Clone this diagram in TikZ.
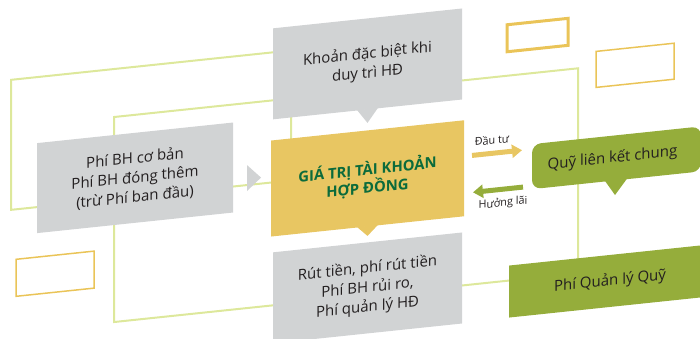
\documentclass[tikz,border=0pt]{standalone}
\usepackage{fontspec}
\setmainfont{Open Sans}
\usetikzlibrary{arrows.meta}
\definecolor{boxgray}{HTML}{D1D3D4}
\definecolor{boxgold}{HTML}{E8C662}
\definecolor{boxgreen}{HTML}{95AD3B}
\definecolor{limeline}{HTML}{DDE89B}
\definecolor{darkgreen}{HTML}{0B6B3B}
\definecolor{textdark}{HTML}{231F20}
\definecolor{outlinegold}{HTML}{EAC458}
\tikzset{
  basebox/.style={draw=none, inner sep=0pt, align=center, text=textdark,
    font=\fontsize{15pt}{19.5pt}\selectfont},
  graybox/.style={basebox, fill=boxgray},
  goldbox/.style={basebox, fill=boxgold, text=darkgreen,
    font=\fontsize{14.8pt}{17.5pt}\selectfont\bfseries},
  greenbox/.style={basebox, fill=boxgreen},
  loopline/.style={draw=limeline, line width=2pt},
  emptybox/.style={draw=outlinegold},
  flowarrow/.style={line width=5pt, -{Triangle[length=10pt,width=13pt]}},
  smalllabel/.style={text=textdark, inner sep=0pt, font=\fontsize{10.8pt}{12pt}\selectfont}
}
\begin{document}
\begin{tikzpicture}[x=1pt,y=-1pt]
\useasboundingbox (0,0) rectangle (700,339);
\clip (0,0) rectangle (700,339);
\begin{scope}[yslant=0.105, every node/.append style={transform shape}]
  % decorative loops behind the boxes
  \coordinate (o1) at (11,81);
  \coordinate (o2) at (291,211);
  \coordinate (i1) at (114,129);
  \coordinate (i2) at (578,334);
  \draw[loopline] (o1) rectangle (o2);
  \draw[loopline] (i1) rectangle (i2);

  % empty outline boxes
  \draw[emptybox, line width=3pt] (507,78) rectangle (568,105);
  \draw[emptybox, line width=1.5pt] (596,114) rectangle (674,150);
  \draw[emptybox, line width=1.5pt] (16,261) rectangle (94,298);

  % boxes
  \node[graybox, minimum width=189pt, minimum height=91pt] (top) at (367.5,102.5)
    {Khoản đặc biệt khi\\duy trì HĐ};
  \node[goldbox, minimum width=193pt, minimum height=96pt] (gold) at (367.5,217)
    {GIÁ TRỊ TÀI KHOẢN\\HỢP ĐỒNG};
  \node[graybox, minimum width=189pt, minimum height=91pt] (bottom) at (367.5,326.5)
    {Rút tiền, phí rút tiền\\Phí BH rủi ro,\\Phí quản lý HĐ};
  \node[graybox, minimum width=196pt, minimum height=90pt] (left) at (135,192)
    {Phí BH cơ bản\\Phí BH đóng thêm\\(trừ Phí ban đầu)};
  \node[greenbox, rounded corners=9pt, minimum width=169pt, minimum height=45pt] (quy) at (616.5,222.5)
    {Quỹ liên kết chung\hspace*{8pt}};
  \node[greenbox, minimum width=202pt, minimum height=52pt] (qlq) at (610,345)
    {Phí Quản lý Quỹ};

  % pointers
  \fill[boxgray] (357,147.5) -- (378,147.5) -- (367.5,161.5) -- cycle;
  \fill[boxgold] (357,264.5) -- (378,264.5) -- (367.5,274.5) -- cycle;
  \fill[boxgreen] (605,244.5) -- (627,244.5) -- (615,259.6) -- cycle;
  \fill[boxgray] (247,191) -- (247,217) -- (261,205) -- cycle;

  % arrows
  \coordinate (a1) at (472,205);
  \coordinate (a2) at (522,205);
  \coordinate (b1) at (523,242);
  \coordinate (b2) at (473,242);
  \draw[flowarrow, draw=boxgold, fill=boxgold] (a1) -- (a2);
  \draw[flowarrow, draw=boxgreen, fill=boxgreen] (b1) -- (b2);
  \node[smalllabel] (dautu) at (492,191.5) {Đầu tư};
  \node[smalllabel] (huonglai) at (503,256) {Hưởng lãi};
\end{scope}
\end{tikzpicture}
\end{document}
